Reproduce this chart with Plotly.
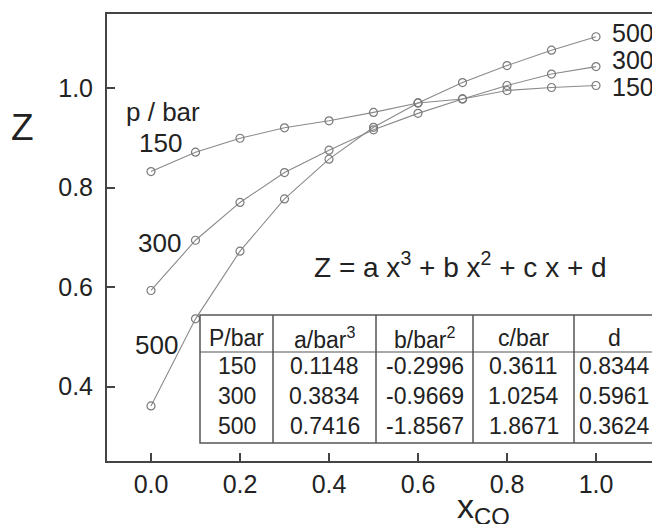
import plotly.graph_objects as go

# ---- data ----
x_co = [0.0, 0.1, 0.2, 0.3, 0.4, 0.5, 0.6, 0.7, 0.8, 0.9, 1.0]
z_150 = [0.832, 0.871, 0.899, 0.920, 0.934, 0.951, 0.970, 0.978, 0.995, 1.001, 1.005]
z_300 = [0.593, 0.694, 0.770, 0.830, 0.875, 0.916, 0.949, 0.978, 1.005, 1.028, 1.043]
z_500 = [0.361, 0.536, 0.672, 0.777, 0.857, 0.921, 0.970, 1.011, 1.045, 1.076, 1.103]
pressures = ["150", "300", "500"]

table_header = ["P/bar", "a/bar<sup>3</sup>", "b/bar<sup>2</sup>", "c/bar", "d"]
coef_a = ["0.1148", "0.3834", "0.7416"]
coef_b = ["-0.2996", "-0.9669", "-1.8567"]
coef_c = ["0.3611", "1.0254", "1.8671"]
coef_d = ["0.8344", "0.5961", "0.3624"]

x_ticks = [0.0, 0.2, 0.4, 0.6, 0.8, 1.0]
y_ticks = [0.4, 0.6, 0.8, 1.0]

# ---- layout helpers (page pixel -> data / paper coords) ----
OFF = 8  # page body margin in the browser
X0PX, XSCALE = 151.0, 445.0
Y1PX, YSCALE = 88.0, 497.5
PL, PR, PT, PB = 107, 668, 14, 461  # plot area on the page


def dx(px):
    return (px - X0PX) / XSCALE


def dy(py):
    return 1.0 - (py - Y1PX) / YSCALE


def xp(px):
    return (px - PL) / (PR - PL)


def yp(py):
    return (PB - py) / (PB - PT)


FONT = "Liberation Sans, Arial, sans-serif"
TXT = "#222222"
LINE = "#8a8a8a"

fig = go.Figure()
for z in (z_150, z_300, z_500):
    fig.add_trace(go.Scatter(
        x=x_co, y=z, mode="lines+markers",
        line=dict(color=LINE, width=1.1),
        marker=dict(symbol="circle-open", size=8, color="#7a7a7a",
                    line=dict(width=1.2)),
        showlegend=False, hoverinfo="skip"))

ann = []


def txt(px, py, s, size=25, xanchor="center", yanchor="middle"):
    ann.append(dict(x=xp(px), y=yp(py), text=s, showarrow=False,
                    xref="paper", yref="paper",
                    xanchor=xanchor, yanchor=yanchor,
                    font=dict(family=FONT, size=size, color=TXT)))


# curve labels
txt(163, 112, "p / bar", size=26)
txt(160, 143, pressures[0], size=26)
txt(159, 243, pressures[1], size=26)
txt(156, 345, pressures[2], size=26)
txt(610, 33, pressures[2], size=25, xanchor="left")
txt(610, 60, pressures[1], size=25, xanchor="left")
txt(610, 87, pressures[0], size=25, xanchor="left")

# equation
txt(460, 265, "Z = a x<sup>3</sup> + b x<sup>2</sup> + c x + d", size=28)

# axis titles
txt(22, 127, "Z", size=37)
txt(455, 508, "x<sub>CO</sub>", size=34, xanchor="left")

# table
col_edges = [200, 273, 376, 473, 574, 654]
row_top, row_head, row_bot = 315, 352, 443
row_centers = [366, 396, 426]
head_center = 338
shapes = []
lc = "#555555"
shapes.append(dict(type="rect", xref="paper", yref="paper",
                   x0=xp(col_edges[0]), x1=xp(col_edges[-1]),
                   y0=yp(row_bot), y1=yp(row_top),
                   line=dict(color=lc, width=1.5), fillcolor="white", layer="above"))
shapes.append(dict(type="line", xref="paper", yref="paper",
                   x0=xp(col_edges[0]), x1=xp(col_edges[-1]),
                   y0=yp(row_head), y1=yp(row_head),
                   line=dict(color=lc, width=1.2), layer="above"))
for ce in col_edges[1:-1]:
    shapes.append(dict(type="line", xref="paper", yref="paper",
                       x0=xp(ce), x1=xp(ce), y0=yp(row_bot), y1=yp(row_top),
                       line=dict(color=lc, width=1.5), layer="above"))

columns = [pressures, coef_a, coef_b, coef_c, coef_d]
for j, (h, col) in enumerate(zip(table_header, columns)):
    cx = (col_edges[j] + col_edges[j + 1]) / 2
    txt(cx, head_center, h, size=23)
    for i, v in enumerate(col):
        txt(cx, row_centers[i], v, size=23)

fig.update_layout(
    width=660, height=524,
    margin=dict(l=PL - OFF, r=660 - (PR - OFF), t=PT - OFF, b=524 - (PB - OFF),
                autoexpand=False),
    paper_bgcolor="white", plot_bgcolor="white",
    annotations=ann, shapes=shapes,
    font=dict(family=FONT, color=TXT),
    xaxis=dict(range=[dx(PL), dx(PR)], tickvals=x_ticks,
               ticktext=[f"{v:.1f}" for v in x_ticks],
               showgrid=False, zeroline=False,
               showline=True, linecolor="#444444", linewidth=2, mirror=True,
               ticks="inside", ticklen=8, tickwidth=1.5, tickcolor="#444444",
               tickfont=dict(size=25, family=FONT, color=TXT)),
    yaxis=dict(range=[dy(PB), dy(PT)], tickvals=y_ticks,
               ticktext=[f"{v:.1f}" for v in y_ticks],
               showgrid=False, zeroline=False,
               showline=True, linecolor="#444444", linewidth=2,
               ticks="inside", ticklen=8, tickwidth=1.5, tickcolor="#444444",
               ticklabelstandoff=7,
               tickfont=dict(size=25, family=FONT, color=TXT)),
)

fig.write_html("out.html")
